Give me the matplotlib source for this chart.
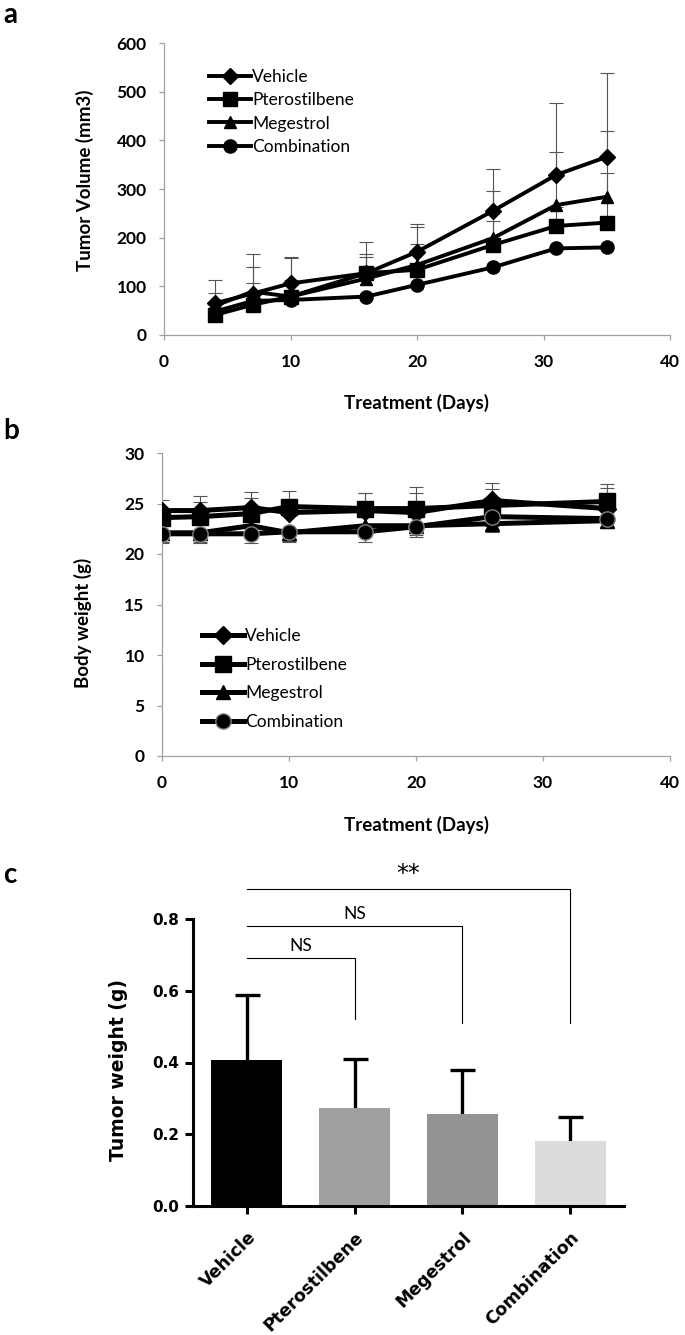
import numpy as np
import matplotlib.pyplot as plt

plt.rcParams['font.family'] = ['Lato', 'DejaVu Sans']

# --- panel a: tumour volume ---
vol_days = [4, 7, 10, 16, 20, 26, 31, 35]
vol_vehicle = [65, 85, 106, 127, 171, 255, 329, 366]
vol_vehicle_err = [49, 81, 55, 65, 58, 86, 148, 173]
vol_ptero = [41, 62, 79, 127, 134, 185, 224, 231]
vol_ptero_err = [15, 44, 35, 34, 54, 49, 40, 102]
vol_mege = [60, 89, 79, 116, 144, 199, 267, 284]
vol_mege_err = [27, 50, 80, 50, 77, 96, 110, 135]
vol_combo = [48, 70, 72, 79, 103, 139, 178, 180]

# --- panel b: body weight ---
bw_days = [0, 3, 7, 10, 16, 20, 26, 35]
bw_vehicle = [24.3, 24.3, 24.6, 24.1, 24.3, 24.1, 25.3, 24.5]
bw_vehicle_err = [1.0, 1.4, 1.5, 1.2, 1.7, 2.5, 1.7, 2.4]
bw_ptero = [23.6, 23.7, 24.0, 24.7, 24.5, 24.5, 24.8, 25.2]
bw_ptero_err = [0.8, 1.4, 1.5, 1.5, 1.5, 1.5, 1.6, 1.3]
bw_mege = [22.1, 22.1, 22.8, 22.1, 22.8, 22.8, 23.0, 23.3]
bw_mege_err = [0.9, 0.9, 1.0, 0.8, 1.0, 0.9, 0.8, 0.6]
bw_combo = [22.0, 22.0, 22.0, 22.2, 22.2, 22.7, 23.7, 23.5]
bw_combo_err = [0.9, 0.9, 0.9, 1.0, 1.0, 1.0, 0.9, 0.9]

# --- panel c: tumour weight ---
groups = ['Vehicle', 'Pterostilbene', 'Megestrol', 'Combination']
tw_mean = [0.406, 0.273, 0.256, 0.180]
tw_err = [0.181, 0.138, 0.123, 0.068]
bar_colors = ['#000000', '#a0a0a0', '#939393', '#dcdcdc']
# (compared group, bracket height, drop-to height, label)
brackets = [(1, 0.69, 0.52, 'NS'), (2, 0.78, 0.51, 'NS'), (3, 0.885, 0.51, '**')]

series_names = ['Vehicle', 'Pterostilbene', 'Megestrol', 'Combination']
markers = ['D', 's', '^', 'o']

fig = plt.figure(figsize=(6.85, 13.35), dpi=100)
W, H = 685, 1335


def px_axes(l, t, r, b):
    return fig.add_axes([l / W, 1 - b / H, (r - l) / W, (b - t) / H])


def one_sided(ax, x, y, lo, hi, **kw):
    # error bars on one side only; the zero-length side's cap is hidden
    n = len(y)
    lo_a = np.zeros(n) if lo is None else np.asarray(lo)
    hi_a = np.zeros(n) if hi is None else np.asarray(hi)
    eb = ax.errorbar(x, y, yerr=[lo_a, hi_a], fmt='none', **kw)
    caps = eb[1]
    if lo is None:
        caps[0].set_visible(False)
    if hi is None:
        caps[1].set_visible(False)
    return eb


def excel_style(ax):
    for s in ['top', 'right']:
        ax.spines[s].set_visible(False)
    for s in ['left', 'bottom']:
        ax.spines[s].set_color('#a0a0a0')
        ax.spines[s].set_linewidth(0.9)
    ax.tick_params(axis='both', color='#a0a0a0', width=0.9, length=3.5,
                   labelsize=12.5)
    ax.tick_params(axis='x', pad=10)
    ax.tick_params(axis='y', pad=9)
    for lab in ax.get_xticklabels() + ax.get_yticklabels():
        lab.set_fontweight('bold')


# ===== a =====
ax = px_axes(164, 43, 670, 335)
vol_vals = [vol_vehicle, vol_ptero, vol_mege, vol_combo]
vol_errs = [vol_vehicle_err, vol_ptero_err, vol_mege_err, None]
msizes_a = [8, 9.5, 9, 9.5]
for name, vals, err, mk, ms in zip(series_names, vol_vals, vol_errs, markers, msizes_a):
    if err is not None:
        one_sided(ax, vol_days, vals, None, err, ecolor='#555555', elinewidth=0.8,
                  capsize=5, capthick=0.8, zorder=2)
    ax.plot(vol_days, vals, color='black', lw=2.8, marker=mk, ms=ms,
            mfc='black', mec='black', label=name, zorder=3)
ax.set_xlim(0, 40)
ax.set_ylim(0, 600)
ax.set_xticks([0, 10, 20, 30, 40])
ax.set_yticks(range(0, 601, 100))
excel_style(ax)
ax.set_xlabel('Treatment (Days)', fontsize=13.5, fontweight='bold')
ax.xaxis.set_label_coords(0.5, -(403 - 335) / 292)
ax.xaxis.label.set_va('center')
ax.set_ylabel('Tumor Volume (mm3)', fontsize=13.5, fontweight='bold')
ax.yaxis.set_label_coords(-0.156, 0.53)
ax.yaxis.label.set_va('center')
ax.legend(loc='upper left', bbox_to_anchor=(0.075, 0.935), frameon=False,
          fontsize=12.5, numpoints=1, handlelength=2.4, handletextpad=0.1,
          labelspacing=0.42, borderaxespad=0)
fig.text(3 / W, 1 - 2 / H, 'a', fontsize=20, fontweight='bold', va='top', ha='left')

# ===== b =====
ax = px_axes(162, 453, 670, 756)
bw_vals = [bw_vehicle, bw_ptero, bw_mege, bw_combo]
bw_errs = [(None, bw_vehicle_err), (None, bw_ptero_err),
           (bw_mege_err, None), (bw_combo_err, None)]
msizes_b = [9, 11, 9.5, 11]
for name, vals, (lo, hi), mk, ms in zip(series_names, bw_vals, bw_errs, markers, msizes_b):
    one_sided(ax, bw_days, vals, lo, hi, ecolor='#555555', elinewidth=0.8,
              capsize=5, capthick=0.8, zorder=2)
    edge = '#808080' if mk == 'o' else 'black'
    ax.plot(bw_days, vals, color='black', lw=3.6, marker=mk, ms=ms,
            mfc='black', mec=edge, mew=1.0, label=name, zorder=3)
ax.set_xlim(0, 40)
ax.set_ylim(0, 30)
ax.set_xticks([0, 10, 20, 30, 40])
ax.set_yticks(range(0, 31, 5))
excel_style(ax)
ax.set_xlabel('Treatment (Days)', fontsize=13.5, fontweight='bold')
ax.xaxis.set_label_coords(0.5, -(825 - 756) / 303)
ax.xaxis.label.set_va('center')
ax.set_ylabel('Body weight (g)', fontsize=13.5, fontweight='bold')
ax.yaxis.set_label_coords(-0.156, 0.44)
ax.yaxis.label.set_va('center')
ax.legend(loc='upper left', bbox_to_anchor=(0.065, 0.445), frameon=False,
          fontsize=12.5, numpoints=1, handlelength=2.4, handletextpad=0.1,
          labelspacing=0.72, borderaxespad=0)
fig.text(3 / W, 1 - 418 / H, 'b', fontsize=20, fontweight='bold', va='top', ha='left')

# ===== c =====
ax = px_axes(193, 919, 624, 1206)
xpos = np.arange(len(groups))
ax.bar(xpos, tw_mean, width=0.66, color=bar_colors, zorder=2)
one_sided(ax, xpos, tw_mean, None, tw_err, ecolor='black', elinewidth=2.4,
          capsize=9, capthick=2.4, zorder=1)
ax.set_xlim(-0.5, 3.5)
ax.set_ylim(0, 0.8)
ax.set_yticks([0.0, 0.2, 0.4, 0.6, 0.8])
ax.set_yticklabels(['0.0', '0.2', '0.4', '0.6', '0.8'])
ax.set_xticks(xpos)
ax.set_xticklabels(groups, rotation=45, ha='right', va='top', rotation_mode='anchor')
for s in ['top', 'right']:
    ax.spines[s].set_visible(False)
for s in ['left', 'bottom']:
    ax.spines[s].set_linewidth(2.2)
ax.tick_params(axis='both', width=2.2, length=6)
ax.tick_params(axis='x', pad=10)
ax.tick_params(axis='y', pad=4)
for lab in ax.get_xticklabels():
    lab.set_family(['DejaVu Sans'])
    lab.set_fontweight('bold')
    lab.set_fontsize(12.5)
for lab in ax.get_yticklabels():
    lab.set_family(['DejaVu Sans'])
    lab.set_fontweight('bold')
    lab.set_fontsize(11)
ax.set_ylabel('Tumor weight (g)', fontsize=13.5, fontweight='bold', family=['DejaVu Sans'])
ax.yaxis.set_label_coords(-0.174, 0.474)
ax.yaxis.label.set_va('center')
for j, h, drop, lab in brackets:
    ax.plot([0, 0, j, j], [h, h, h, drop], color='black', lw=0.8, clip_on=False,
            zorder=3)
    if lab == '**':
        ax.text(j / 2, h + 0.008, lab, ha='center', va='bottom', fontsize=17,
                family=['DejaVu Sans'], clip_on=False)
    else:
        ax.text(j / 2, h + 0.012, lab, ha='center', va='bottom', fontsize=12.5,
                clip_on=False)
fig.text(3 / W, 1 - 862 / H, 'c', fontsize=20, fontweight='bold', va='top', ha='left')

fig.savefig('out.png', dpi=100)
